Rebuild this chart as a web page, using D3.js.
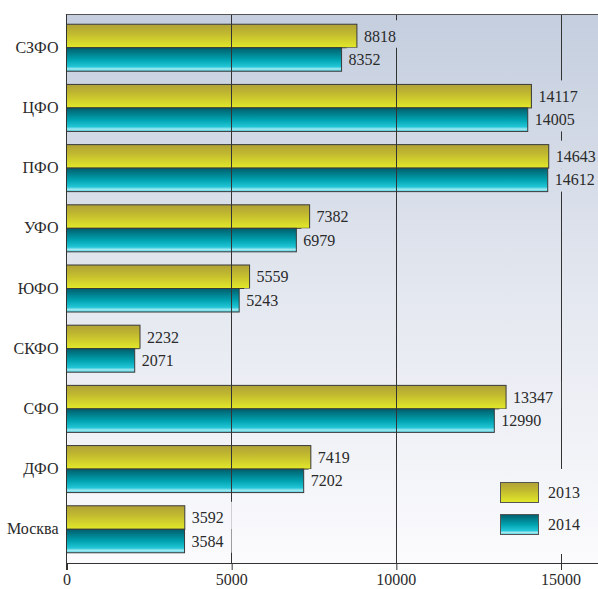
<!DOCTYPE html>
<html><head><meta charset="utf-8">
<script src="https://cdn.jsdelivr.net/npm/d3@7"></script>
<style>html,body{margin:0;padding:0;background:#fff;}svg{display:block;}</style>
</head><body>
<script>
const categories = ["СЗФО","ЦФО","ПФО","УФО","ЮФО","СКФО","СФО","ДФО","Москва"];
const values2013 = [8818,14117,14643,7382,5559,2232,13347,7419,3592];
const values2014 = [8352,14005,14612,6979,5243,2071,12990,7202,3584];
const seriesNames = ["2013","2014"];
const tickValues = [0,5000,10000,15000];

(function(){
const font = "'Liberation Serif', 'Times New Roman', serif";
const W = 598, H = 589;
const pLeft = 66.5, pTop = 14, pBottom = 563, pRight = 598;
const svg = d3.select("body").append("svg").attr("width", W).attr("height", H);
const defs = svg.append("defs");

const bg = defs.append("linearGradient").attr("id","bg").attr("gradientUnits","userSpaceOnUse")
  .attr("x1",0).attr("y1",pTop).attr("x2",0).attr("y2",pBottom);
bg.append("stop").attr("offset","0").attr("stop-color","#c4cede");
bg.append("stop").attr("offset","0.5").attr("stop-color","#e3e7ef");
bg.append("stop").attr("offset","1").attr("stop-color","#fbfbfd");

const gY = defs.append("linearGradient").attr("id","g2013").attr("x1",0).attr("y1",0).attr("x2",0).attr("y2",1);
gY.append("stop").attr("offset","0").attr("stop-color","#b0a238");
gY.append("stop").attr("offset","0.35").attr("stop-color","#bfb630");
gY.append("stop").attr("offset","1").attr("stop-color","#e3e929");
const gT = defs.append("linearGradient").attr("id","g2014").attr("x1",0).attr("y1",0).attr("x2",0).attr("y2",1);
gT.append("stop").attr("offset","0").attr("stop-color","#005d6b");
gT.append("stop").attr("offset","0.5").attr("stop-color","#00a2b0");
gT.append("stop").attr("offset","0.8").attr("stop-color","#22c6d6");
gT.append("stop").attr("offset","0.9").attr("stop-color","#a2e9f1");
gT.append("stop").attr("offset","1").attr("stop-color","#46cddd");

const x = d3.scaleLinear().domain([0,15000]).range([pLeft, 560.5]);
const y = d3.scaleBand().domain(categories).range([pTop, pBottom]).paddingInner(0.219).paddingOuter(0.17);
const ys = d3.scaleBand().domain(seriesNames).range([0, y.bandwidth()]);

svg.append("rect").attr("x", pLeft).attr("y", pTop).attr("width", pRight-pLeft).attr("height", pBottom-pTop).attr("fill","url(#bg)");

const data = [];
categories.forEach((c,i)=>{
  data.push({c, s:"2013", v: values2013[i]});
  data.push({c, s:"2014", v: values2014[i]});
});

svg.append("g").selectAll("rect").data(data).join("rect")
  .attr("x", x(0)).attr("y", d => y(d.c)+ys(d.s))
  .attr("width", d => x(d.v)-x(0)).attr("height", ys.bandwidth())
  .attr("fill", d => "url(#g"+d.s+")").attr("stroke","#3a3a3a").attr("stroke-width",1);

svg.append("g").selectAll("line").data(tickValues.slice(1)).join("line")
  .attr("x1", d=>Math.round(x(d))+0.5).attr("x2", d=>Math.round(x(d))+0.5)
  .attr("y1", pTop).attr("y2", pBottom)
  .attr("stroke","#333").attr("stroke-width",1);

const lab = svg.append("g");
data.forEach(d => {
  const by = y(d.c)+ys(d.s), bh = ys.bandwidth();
  const tx = x(d.v)+7;
  const g = lab.append("g");
  const t = g.append("text").attr("x", tx).attr("y", by+bh/2).attr("dy","0.35em")
    .style("font-family", font).style("font-size","16px").attr("fill","#2a2a2a").text(d.v);
  const w = t.node().getComputedTextLength();
  const ext = d.s==="2013" ? 4 : 0;
  g.insert("rect","text").attr("x", tx-2).attr("y", by-ext).attr("width", w+10).attr("height", bh+ext)
    .attr("fill","url(#bg)");
});

svg.append("line").attr("x1", pLeft).attr("x2", pRight).attr("y1", pTop+0.5).attr("y2", pTop+0.5).attr("stroke","#555");
svg.append("line").attr("x1", pLeft).attr("x2", pLeft).attr("y1", pTop).attr("y2", pBottom+7).attr("stroke","#333");
svg.append("line").attr("x1", pLeft).attr("x2", pRight).attr("y1", pBottom+0.5).attr("y2", pBottom+0.5).attr("stroke","#333");

const xa = svg.append("g").attr("transform",`translate(0,${pBottom})`)
  .call(d3.axisBottom(x).tickValues(tickValues).tickSize(7).tickPadding(4).tickFormat(d3.format("d")));
xa.select(".domain").remove();
xa.selectAll("line").attr("stroke","#333").attr("transform","translate(0.5,0)");
xa.selectAll("text").style("font-family",font).style("font-size","16px").attr("fill","#2a2a2a");

const ya = svg.append("g").attr("transform",`translate(${pLeft},0)`)
  .call(d3.axisLeft(y).tickSize(0).tickPadding(8));
ya.select(".domain").remove();
ya.selectAll("text").style("font-family",font).style("font-size","16px").attr("fill","#2a2a2a");

const lg = svg.append("g");
lg.append("rect").attr("x",494).attr("y",469).attr("width",104).attr("height",85).attr("fill","url(#bg)");
seriesNames.forEach((s,i)=>{
  const ly = 482 + i*32;
  lg.append("rect").attr("x",500.5).attr("y",ly+0.5).attr("width",38).attr("height",20)
    .attr("fill","url(#g"+s+")").attr("stroke","#555");
  lg.append("text").attr("x",548).attr("y",ly+10).attr("dy","0.35em")
    .style("font-family",font).style("font-size","16px").attr("fill","#2a2a2a").text(s);
});
})();
</script>
</body></html>
